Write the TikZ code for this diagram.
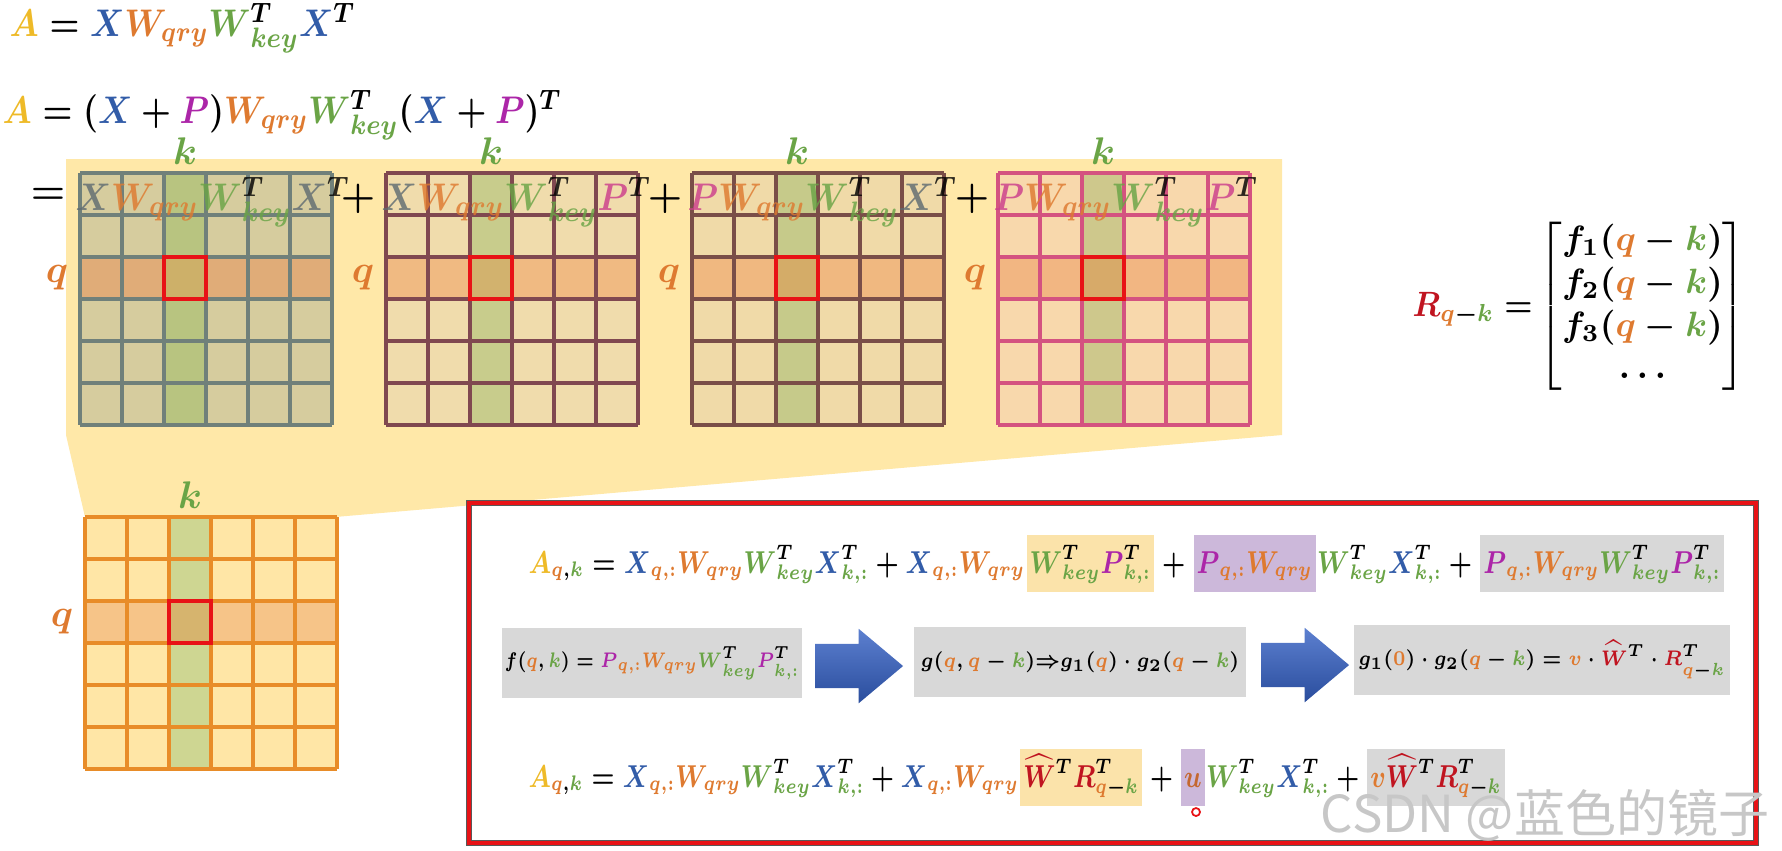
\documentclass[tikz,border=0pt]{standalone}
\usepackage{graphicx}
\usepackage{fontspec}
\newfontfamily\cjk{Noto Sans CJK SC}
\usetikzlibrary{shapes.arrows,calc}

\definecolor{cA}{RGB}{238,186,40}
\definecolor{cX}{RGB}{50,92,168}
\definecolor{cXg}{RGB}{96,108,114}
\definecolor{cQ}{RGB}{222,122,48}
\definecolor{cK}{RGB}{106,164,70}
\definecolor{cP}{RGB}{172,38,168}
\definecolor{cPg}{RGB}{204,62,140}
\definecolor{cR}{RGB}{192,20,32}
\definecolor{cU}{RGB}{196,104,48}
\definecolor{bgyel}{RGB}{255,232,168}
\definecolor{hlyel}{RGB}{251,227,170}
\definecolor{hlpur}{RGB}{204,184,218}
\definecolor{hlgray}{RGB}{216,216,216}
\definecolor{arrblue}{RGB}{52,96,196}
\definecolor{hitred}{RGB}{232,18,22}
% matrix colours: cell, grid line, k column, q row, crossing cell
\definecolor{cell1}{RGB}{214,204,158}\definecolor{line1}{RGB}{112,128,122}
\definecolor{col1}{RGB}{184,196,128}\definecolor{row1}{RGB}{224,172,120}\definecolor{hit1}{RGB}{205,176,105}
\definecolor{cell2}{RGB}{240,220,172}\definecolor{line2}{RGB}{128,72,80}
\definecolor{col2}{RGB}{200,204,140}\definecolor{row2}{RGB}{240,186,130}\definecolor{hit2}{RGB}{210,178,110}
\definecolor{cell3}{RGB}{240,218,168}\definecolor{line3}{RGB}{122,78,72}
\definecolor{col3}{RGB}{198,202,138}\definecolor{row3}{RGB}{240,184,128}\definecolor{hit3}{RGB}{212,172,104}
\definecolor{cell4}{RGB}{248,216,172}\definecolor{line4}{RGB}{212,82,128}
\definecolor{col4}{RGB}{206,200,140}\definecolor{row4}{RGB}{242,182,130}\definecolor{hit4}{RGB}{215,170,105}
\definecolor{cell5}{RGB}{255,230,166}\definecolor{line5}{RGB}{232,140,40}
\definecolor{col5}{RGB}{206,214,146}\definecolor{row5}{RGB}{246,196,136}\definecolor{hit5}{RGB}{214,180,110}

\newcommand{\sqz}[2][0.8]{\scalebox{#1}[1]{#2}}
\newcommand{\Am}{{\color{cA}A}}
\newcommand{\Xm}{{\color{cX}X}}
\newcommand{\Xg}{{\color{cXg}X}}
\newcommand{\Pm}{{\color{cP}P}}
\newcommand{\Pg}{{\color{cPg}P}}
\newcommand{\Rm}{{\color{cR}R}}
\newcommand{\Wqry}{{\color{cQ}W_{qry}}}
\newcommand{\Wkey}{{\color{cK}W}^{T}_{\color{cK}key}}
\newcommand{\Wht}{{\color{cR}\widehat{W}}^{T}}
\newcommand{\sq}{{\color{cQ}q,:}}
\newcommand{\sk}{{\color{cK}k,:}}
\newcommand{\cq}{{\color{cQ}q}}
\newcommand{\ck}{{\color{cK}k}}
\newcommand{\qk}{{\color{cQ}q}-{\color{cK}k}}

\begin{document}
\boldmath
\begin{tikzpicture}[
    x=0.01cm, y=-0.01cm,
    bigeq/.style={inner sep=0, font=\fontsize{10.8}{13}\selectfont},
    rmat/.style={inner sep=0, font=\fontsize{10}{12.2}\selectfont},
    roweq/.style={inner sep=0, font=\fontsize{8.7}{10.5}\selectfont},
    hl/.style={roweq, inner xsep=0.03cm, inner ysep=0.02cm, text height=0.36cm, text depth=0.17cm},
    boxeq/.style={fill=hlgray, inner sep=0, minimum height=0.7cm},
    ghost/.style={bigeq, text opacity=0.82},
    lbl/.style={inner sep=0, font=\fontsize{10.8}{13}\selectfont},
    gridline/.style={line width=0.9pt},
    redsq/.style={draw=hitred, line width=1.4pt},
    blockarrow/.style={single arrow, draw=none, inner xsep=0, inner ysep=0.215cm,
      minimum height=0.88cm, single arrow head extend=0.15cm, single arrow tip angle=80,
      top color=arrblue!80!white, bottom color=arrblue!80!black, anchor=tail},
  ]
    \useasboundingbox (0,0) rectangle (1782,850);

    % --- top equations ---
    \node[bigeq, anchor=base west] (eq1) at (9,36) {\sqz[0.87]{$\Am = \Xm\Wqry\Wkey\Xm^{T}$}};
    \node[bigeq, anchor=base west] (eq2) at (2,123) {\sqz[0.87]{$\Am = (\Xm+\Pm)\Wqry\Wkey(\Xm+\Pm)^{T}$}};

    % --- yellow zoom band ---
    \fill[bgyel] (66,159) -- (1282,159) -- (1282,435) -- (335,517) -- (85,517) -- (66,435) -- cycle;

    % --- 6x6 score maps: four terms on top, full map below ---
    \foreach \n/\mx/\my in {1/80/173, 2/386/173, 3/692/173, 4/998/173, 5/85/517} {
      \begin{scope}[shift={(\mx,\my)}]
        \fill[cell\n] (0,0) rectangle (252,252);
        \fill[col\n] (84,0) rectangle (126,252);
        \fill[row\n] (0,84) rectangle (252,126);
        \fill[hit\n] (84,84) rectangle (126,126);
        \foreach \k in {0,...,6} {
          \draw[gridline, line\n] (\k*42,0) -- (\k*42,252);
          \draw[gridline, line\n] (0,\k*42) -- (252,\k*42);
        }
        \draw[redsq] (84,84) rectangle (126,126);
        \node[lbl, text=cQ] (q\n) at (-23,105) {$q$};
        \node[lbl, text=cK] (k\n) at (105,-22) {$k$};
      \end{scope}
    }

    % terms written over the maps
    \node[ghost, anchor=base west] (t1) at (75,210) {\sqz[0.9]{$\Xg\Wqry\Wkey\Xg^{T}$}};
    \node[ghost, anchor=base west] (t2) at (381,210) {\sqz[0.9]{$\Xg\Wqry\Wkey\Pg^{T}$}};
    \node[ghost, anchor=base west] (t3) at (687,210) {\sqz[0.9]{$\Pg\Wqry\Wkey\Xg^{T}$}};
    \node[ghost, anchor=base west] (t4) at (993,210) {\sqz[0.9]{$\Pg\Wqry\Wkey\Pg^{T}$}};
    \node[bigeq] (eq0) at (48,196) {$=$};
    \foreach \x [count=\i] in {358,665,972}
      \node[bigeq] (plus\i) at (\x,199) {$+$};

    % --- relative position vector ---
    \node[rmat, anchor=west] (rlab) at (1412,309) {\sqz[0.9]{$\Rm_{\qk} =$}};
    \node[rmat, anchor=west] (rvec) at (1538,306)
      {$\left[\begin{array}{@{}c@{}} f_1(\qk)\\ f_2(\qk)\\ f_3(\qk)\\ \ldots \end{array}\right]$};

    % --- red frame with the expansion ---
    \draw[line width=1.9pt, black!65] (469,503) rectangle (1756,843);
    \draw[line width=1.4pt, hitred] (469,503) rectangle (1756,843);

    \node[roweq, anchor=base west] (r1a) at (528,573)
      {\sqz{$\Am_{\cq,\ck} = \Xm_{\sq}\Wqry\Wkey\Xm^{T}_{\sk} + \Xm_{\sq}\Wqry$}};
    \node[hl, fill=hlyel, anchor=base west] (r1b) at (r1a.base east) {\sqz{$\Wkey\Pm^{T}_{\sk}$}};
    \node[roweq, anchor=base west] (r1c) at (r1b.base east) {\sqz{${}+{}$}};
    \node[hl, fill=hlpur, anchor=base west] (r1d) at (r1c.base east) {\sqz{$\Pm_{\sq}\Wqry$}};
    \node[roweq, anchor=base west] (r1e) at (r1d.base east) {\sqz{$\Wkey\Xm^{T}_{\sk} + {}$}};
    \node[hl, fill=hlgray, anchor=base west] (r1f) at (r1e.base east) {\sqz{$\Pm_{\sq}\Wqry\Wkey\Pm^{T}_{\sk}$}};

    \node[boxeq, minimum width=2.99cm, font=\fontsize{6}{7}\selectfont] (f1) at (652,663)
      {\sqz[0.78]{$f(\cq,\ck) = \Pm_{\sq}\Wqry\Wkey\Pm^{T}_{\sk}$}};
    \node[boxeq, minimum width=3.31cm, font=\fontsize{6.5}{7.5}\selectfont] (g1) at (1080,662)
      {\sqz[0.86]{$g(\cq,\qk){\Rightarrow}g_1(\cq)\cdot g_2(\qk)$}};
    \node[boxeq, minimum width=3.75cm, font=\fontsize{6.4}{7.5}\selectfont] (g2) at (1542,660)
      {\sqz[0.85]{$g_1({\color{cQ}0})\cdot g_2(\qk) = {\color{cQ}v}\cdot\Wht\cdot\Rm^{T}_{\qk}$}};
    \node[blockarrow] (ar1) at ($(f1.east)+(12,3)$) {};
    \node[blockarrow] (ar2) at ($(g1.east)+(14,3)$) {};

    \node[roweq, anchor=base west] (r3a) at (528,787)
      {\sqz[0.79]{$\Am_{\cq,\ck} = \Xm_{\sq}\Wqry\Wkey\Xm^{T}_{\sk} + \Xm_{\sq}\Wqry$}};
    \node[hl, fill=hlyel, anchor=base west] (r3b) at (r3a.base east) {\sqz[0.79]{$\Wht\Rm^{T}_{\qk}$}};
    \node[roweq, anchor=base west] (r3c) at (r3b.base east) {\sqz[0.79]{${}+{}$}};
    \node[hl, fill=hlpur, anchor=base west] (r3d) at (r3c.base east) {\sqz[0.79]{${\color{cU}u}$}};
    \node[roweq, anchor=base west] (r3e) at (r3d.base east) {\sqz[0.79]{$\Wkey\Xm^{T}_{\sk} + {}$}};
    \node[hl, fill=hlgray, anchor=base west] (r3f) at (r3e.base east) {\sqz[0.79]{${\color{cQ}v}\Wht\Rm^{T}_{\qk}$}};
    \draw[hitred, line width=0.5pt] (1196,812) circle (4);

    \node[text=black!22, font=\cjk\fontsize{14.5}{16}\selectfont] (wm) at (1545,815) {CSDN @蓝色的镜子};
  \end{tikzpicture}
\end{document}
